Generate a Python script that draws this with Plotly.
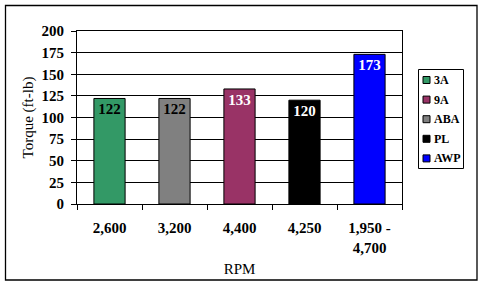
import plotly.graph_objects as go

categories = ["2,600", "3,200", "4,400", "4,250", "1,950 -<br>4,700"]
series = ["3A", "ABA", "9A", "PL", "AWP"]
torque = [122, 122, 133, 120, 173]
colors = ["#339966", "#808080", "#993366", "#000000", "#0000FF"]
label_colors = ["black", "black", "white", "white", "white"]
legend_order = ["3A", "9A", "ABA", "PL", "AWP"]
y_ticks = [0, 25, 50, 75, 100, 125, 150, 175, 200]

W, H = 483, 286
L, R, T, B = 77, 402, 31, 204

def px(x):
    return (x - L) / (R - L)

def py(y):
    return (B - y) / (B - T)

FONT = "Liberation Serif, Times New Roman, serif"

fig = go.Figure()
for name, cat, val, col, lc in zip(series, categories, torque, colors, label_colors):
    fig.add_trace(go.Bar(
        x=[cat], y=[val], name=name,
        marker=dict(color=col, line=dict(color="black", width=1)),
        width=0.48,
        text=[val], texttemplate="<b>%{y}</b>",
        textposition="inside", insidetextanchor="end",
        textfont=dict(family=FONT, size=15, color=lc),
        textangle=0,
        showlegend=False,
    ))

shapes = [
    dict(type="rect", xref="paper", yref="paper",
         x0=px(5.5), x1=px(477), y0=py(5.5), y1=py(280),
         line=dict(color="black", width=1.3), fillcolor="rgba(0,0,0,0)", layer="below"),
    dict(type="rect", xref="paper", yref="paper",
         x0=px(418.5), x1=px(463.5), y0=py(69.5), y1=py(168.5),
         line=dict(color="black", width=1), fillcolor="white"),
]
annotations = []
for i, name in enumerate(legend_order):
    yc = 80 + i * 19.6
    col = colors[series.index(name)]
    shapes.append(dict(type="rect", xref="paper", yref="paper",
                       x0=px(423), x1=px(430), y0=py(yc - 3.5), y1=py(yc + 3.5),
                       line=dict(color="black", width=1), fillcolor=col))
    annotations.append(dict(x=px(432), y=py(yc), xref="paper", yref="paper",
                            text="<b>" + name + "</b>", showarrow=False,
                            xanchor="left", yanchor="middle",
                            font=dict(family=FONT, size=12, color="black")))

fig.update_layout(
    width=W, height=H,
    margin=dict(l=L, r=W - R, t=T, b=H - B, pad=0),
    paper_bgcolor="white", plot_bgcolor="white",
    barmode="overlay",
    showlegend=False,
    shapes=shapes,
    annotations=annotations,
    font=dict(family=FONT, color="black"),
)
fig.update_xaxes(
    type="category",
    tickvals=categories,
    ticktext=["<b>" + c + "</b>" for c in categories],
    tickfont=dict(family=FONT, size=15, color="black"),
    showline=True, linecolor="black", linewidth=1, mirror=True,
    ticks="outside", ticklen=5, tickcolor="black", tickson="boundaries",
    ticklabelstandoff=10,
    showgrid=False,
    automargin=False,
    title=dict(text="RPM", font=dict(family=FONT, size=15, color="black"), standoff=8),
)
fig.update_yaxes(
    range=[0, 200],
    tickvals=y_ticks,
    ticktext=["<b>%d</b>" % v for v in y_ticks],
    tickfont=dict(family=FONT, size=15, color="black"),
    showline=True, linecolor="black", linewidth=1, mirror=True,
    ticks="outside", ticklen=5, tickcolor="black",
    ticklabelstandoff=4,
    showgrid=True, gridcolor="black", gridwidth=1,
    zeroline=False,
    automargin=False,
    title=dict(text="Torque (ft-lb)", font=dict(family=FONT, size=15, color="black"), standoff=4),
)

fig.write_html("out.html")
